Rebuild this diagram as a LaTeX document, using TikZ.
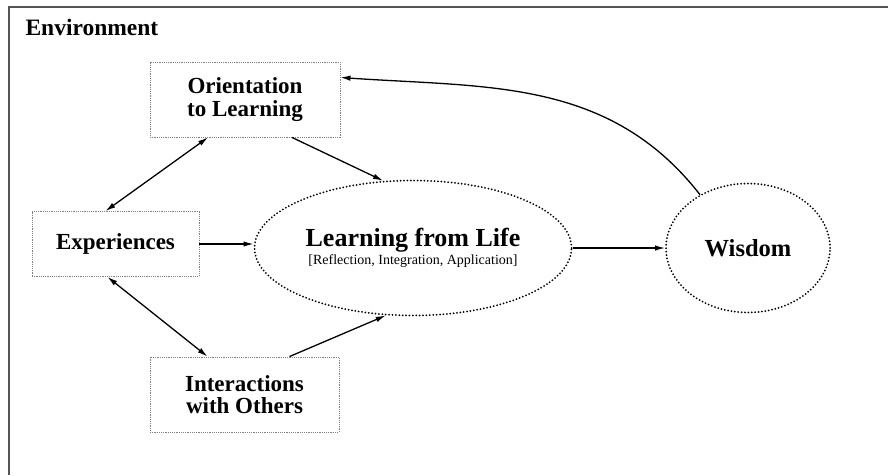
\documentclass[tikz,border=0pt]{standalone}
\usepackage{fontspec}
\setmainfont{Liberation Serif}
\usetikzlibrary{positioning}
\usetikzlibrary{shapes.geometric}
\usetikzlibrary{arrows.meta}
\definecolor{framegray}{HTML}{555555}
\definecolor{boxgray}{HTML}{808080}
\tikzset{
  box/.style={draw=boxgray, line width=0.9pt, dash pattern=on 1.2pt off 1pt,
    rectangle, inner sep=0pt, align=center,
    font=\bfseries\fontsize{23}{22.5}\selectfont},
  blob/.style={draw, line width=2pt, dash pattern=on 0pt off 3.4pt, line cap=round,
    ellipse, inner sep=0pt, align=center},
  link/.style={->, line width=1.3pt},
}

\begin{document}
\begin{tikzpicture}[x=1pt, y=1pt, >={Latex[length=10pt,width=5.5pt]}]
  \useasboundingbox (0,0) rectangle (888,475);

  % frame of the environment
  \coordinate (F1) at (888,468);
  \coordinate (F2) at (9,468);
  \coordinate (F3) at (9,0);
  \draw[framegray, line width=2.4pt] (F1) -- (F2) -- (F3);
  \node[anchor=west, font=\bfseries\fontsize{23.5}{23.5}\selectfont] (Env) at (22,448) {Environment};

  \node[box, minimum width=190, minimum height=75] (Ori) at (245,375.5) {Orientation\\to Learning};
  \node[box, minimum width=167, minimum height=65] (Exp) at (115.5,231) {Experiences};
  \node[box, minimum width=189, minimum height=75] (Int) at (244.5,80.5) {Interactions\\with Others};

  \node[blob, minimum width=317, minimum height=135] (Life) at (413,227)
    {{\fontsize{26}{26}\selectfont\bfseries Learning from Life}\\[2pt]{\fontsize{14}{16}\selectfont [Reflection, Integration, Application]}};
  \node[blob, minimum width=164, minimum height=129, font=\bfseries\fontsize{24.5}{24.5}\selectfont] (Wis) at (748,227) {Wisdom};

  \draw[link, <->] ([xshift=-37pt]Ori.south) -- ([xshift=-10pt]Exp.north);
  \draw[link, <->] ([xshift=-8pt]Exp.south) -- ([xshift=-37pt]Int.north);
  \draw[link] ([xshift=47pt]Ori.south) -- (Life.114);
  \draw[link] ([xshift=45pt]Int.north) -- (Life.248);
  \draw[link] (Exp.east) -- (Exp.east -| Life.west);
  \draw[link] (Life.east) -- (Wis.west);
  \draw[link] (Wis.132) to[out=128, in=-4] (Ori.13);
\end{tikzpicture}
\end{document}
